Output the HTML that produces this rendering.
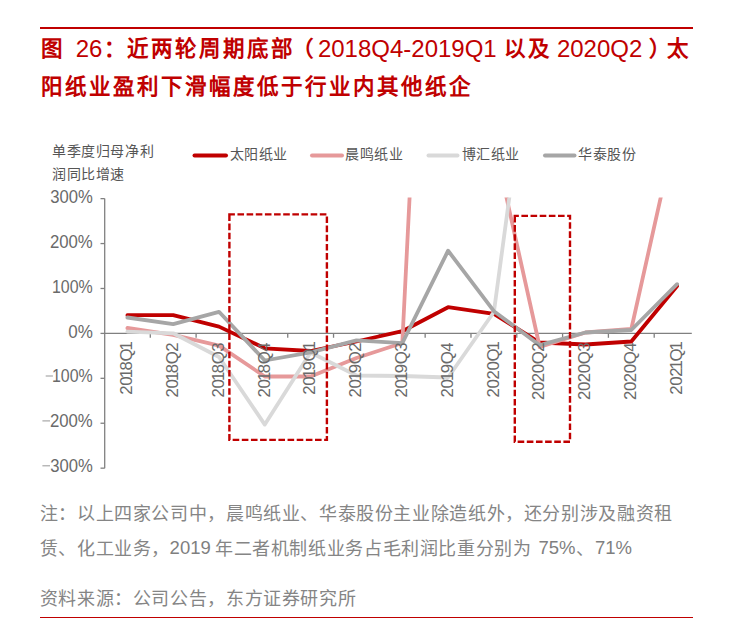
<!DOCTYPE html>
<html lang="zh-CN"><head><meta charset="utf-8">
<style>
html,body{margin:0;padding:0;background:#fff;}
body{width:735px;height:631px;position:relative;overflow:hidden;font-family:"Liberation Sans",sans-serif;}
.rule{position:absolute;left:40px;width:653px;background:#C00000;}
.tc,.td,.nc,.nd{position:absolute;white-space:nowrap;}
.tc{color:#C00000;font-weight:bold;font-size:21.5px;letter-spacing:2px;line-height:30px;}
.td{color:#C00000;font-size:24px;line-height:30px;}
.nc{color:#858585;font-size:18px;letter-spacing:0.62px;line-height:26px;}
.nd{color:#7F7F7F;font-size:18.5px;line-height:26px;}
svg{position:absolute;left:0;top:0;}
</style></head><body>
<div class="rule" style="top:27px;height:2px"></div>
<div class="tc" style="left:40.8px;top:34px">图</div><div class="td" style="left:75.7px;top:34px">26</div><div class="tc" style="left:103.5px;top:34px">：</div><div class="tc" style="left:127px;top:34px">近两轮周期底部</div><div class="tc" style="left:292px;top:34px">（</div><div class="td" style="left:317.9px;top:34px">2018Q4-2019Q1</div><div class="tc" style="left:503.8px;top:34px">以及</div><div class="td" style="left:556.9px;top:34px">2020Q2</div><div class="tc" style="left:649px;top:34px">）</div><div class="tc" style="left:667.3px;top:34px">太</div><div class="tc" style="left:40.8px;top:72.3px">阳纸业盈利下滑幅度低于行业内其他纸企</div>
<svg width="735" height="631" viewBox="0 0 735 631">
<defs><clipPath id="pc"><rect x="105" y="197.5" width="600" height="280"/></clipPath></defs>
<g font-family="Liberation Sans, sans-serif" font-size="14" fill="#555" letter-spacing="0.6">
<text x="52" y="156">单季度归母净利</text>
<text x="52" y="178.5">润同比增速</text>
</g>
<g stroke-linecap="round" stroke-width="4" fill="none">
<line x1="194.5" y1="155.5" x2="226" y2="155.5" stroke="#C00000"/>
<line x1="312" y1="155.5" x2="342" y2="155.5" stroke="#E6999A"/>
<line x1="428.5" y1="155.5" x2="457.5" y2="155.5" stroke="#D9D9D9"/>
<line x1="545" y1="155.5" x2="574.5" y2="155.5" stroke="#A6A6A6"/>
</g>
<g font-family="Liberation Sans, sans-serif" font-size="14" fill="#555" letter-spacing="0.5">
<text x="229.5" y="159.2">太阳纸业</text>
<text x="345" y="159.2">晨鸣纸业</text>
<text x="461.5" y="159.2">博汇纸业</text>
<text x="578" y="159.2">华泰股份</text>
</g>
<g stroke="#808080" stroke-width="1.3" fill="none">
<line x1="104.7" y1="198.5" x2="104.7" y2="468.2"/>
<line x1="104.7" y1="333.4" x2="691.8" y2="333.4"/>
<line x1="100.5" y1="198.64" x2="104.7" y2="198.64"/><line x1="100.5" y1="243.56" x2="104.7" y2="243.56"/><line x1="100.5" y1="288.48" x2="104.7" y2="288.48"/><line x1="100.5" y1="333.40" x2="104.7" y2="333.40"/><line x1="100.5" y1="378.32" x2="104.7" y2="378.32"/><line x1="100.5" y1="423.24" x2="104.7" y2="423.24"/><line x1="100.5" y1="468.16" x2="104.7" y2="468.16"/>
<line x1="150.30" y1="333.4" x2="150.30" y2="337.8"/><line x1="196.11" y1="333.4" x2="196.11" y2="337.8"/><line x1="241.92" y1="333.4" x2="241.92" y2="337.8"/><line x1="287.73" y1="333.4" x2="287.73" y2="337.8"/><line x1="333.54" y1="333.4" x2="333.54" y2="337.8"/><line x1="379.35" y1="333.4" x2="379.35" y2="337.8"/><line x1="425.16" y1="333.4" x2="425.16" y2="337.8"/><line x1="470.97" y1="333.4" x2="470.97" y2="337.8"/><line x1="516.78" y1="333.4" x2="516.78" y2="337.8"/><line x1="562.59" y1="333.4" x2="562.59" y2="337.8"/><line x1="608.40" y1="333.4" x2="608.40" y2="337.8"/><line x1="654.21" y1="333.4" x2="654.21" y2="337.8"/>
</g>
<g font-family="Liberation Sans, sans-serif" font-size="17.5" fill="#6a6a6a">
<text x="92.8" y="202.7" text-anchor="end" textLength="42.6" lengthAdjust="spacingAndGlyphs">300%</text><text x="92.8" y="247.6" text-anchor="end" textLength="42.9" lengthAdjust="spacingAndGlyphs">200%</text><text x="92.8" y="292.5" text-anchor="end" textLength="40.8" lengthAdjust="spacingAndGlyphs">100%</text><text x="92.8" y="337.5" text-anchor="end" textLength="24.6" lengthAdjust="spacingAndGlyphs">0%</text><text x="92.8" y="382.4" text-anchor="end" textLength="40.8" lengthAdjust="spacingAndGlyphs">100%</text><text x="92.8" y="427.3" text-anchor="end" textLength="42.9" lengthAdjust="spacingAndGlyphs">200%</text><text x="92.8" y="472.2" text-anchor="end" textLength="42.6" lengthAdjust="spacingAndGlyphs">300%</text>
</g>
<g stroke="#A0A0A0" stroke-width="1.1"><line x1="45.7" y1="376.0" x2="52.9" y2="376.0"/><line x1="42.4" y1="420.9" x2="50" y2="420.9"/><line x1="42.4" y1="465.8" x2="50" y2="465.8"/></g>
<g clip-path="url(#pc)" fill="none" stroke-width="3.8" stroke-linejoin="round" stroke-linecap="round">
<polyline points="127.4,315.2 173.2,315.2 219.0,326.6 264.8,348.3 310.6,351.0 356.5,341.5 402.3,331.2 448.1,307.2 493.9,313.8 539.7,342.5 585.5,344.5 631.3,341.5 677.1,286.0" stroke="#C00000"/>
<polyline points="127.4,328.0 173.2,334.8 219.0,345.7 264.8,376.5 310.6,376.5 356.5,358.0 402.3,343.0 448.1,-572.0 493.9,140.9 539.7,347.0 585.5,332.5 631.3,329.0 677.1,124.3" stroke="#E6999A"/>
<polyline points="127.4,331.6 173.2,333.3 219.0,357.0 264.8,424.6 310.6,352.5 356.5,375.5 402.3,376.0 448.1,377.5 493.9,312.0 539.7,-28.4" stroke="#D9D9D9"/>
<polyline points="127.4,317.5 173.2,324.2 219.0,311.8 264.8,360.5 310.6,352.3 356.5,340.3 402.3,343.2 448.1,250.7 493.9,311.2 539.7,345.2 585.5,332.5 631.3,330.0 677.1,284.2" stroke="#A6A6A6"/>
</g>
<g font-family="Liberation Sans, sans-serif" font-size="16.8" fill="#6a6a6a">
<text transform="translate(132.1,342.8) rotate(-90)" x="-51.95 -43.00 -35.55 -27.75 -18.80 -7.80">2018Q1</text><text transform="translate(177.9,342.8) rotate(-90)" x="-54.60 -45.65 -38.20 -30.40 -21.45 -8.95">2018Q2</text><text transform="translate(223.7,342.8) rotate(-90)" x="-54.60 -45.65 -38.20 -30.40 -21.45 -8.95">2018Q3</text><text transform="translate(269.5,342.8) rotate(-90)" x="-54.60 -45.65 -38.20 -30.40 -21.45 -8.95">2018Q4</text><text transform="translate(315.3,342.8) rotate(-90)" x="-51.95 -43.00 -35.55 -27.75 -18.80 -7.80">2019Q1</text><text transform="translate(361.2,342.8) rotate(-90)" x="-54.60 -45.65 -38.20 -30.40 -21.45 -8.95">2019Q2</text><text transform="translate(407.0,342.8) rotate(-90)" x="-54.60 -45.65 -38.20 -30.40 -21.45 -8.95">2019Q3</text><text transform="translate(452.8,342.8) rotate(-90)" x="-54.60 -45.65 -38.20 -30.40 -21.45 -8.95">2019Q4</text><text transform="translate(498.6,342.8) rotate(-90)" x="-54.60 -45.65 -36.70 -27.75 -18.80 -7.80">2020Q1</text><text transform="translate(544.4,342.8) rotate(-90)" x="-57.25 -48.30 -39.35 -30.40 -21.45 -8.95">2020Q2</text><text transform="translate(590.2,342.8) rotate(-90)" x="-57.25 -48.30 -39.35 -30.40 -21.45 -8.95">2020Q3</text><text transform="translate(636.0,342.8) rotate(-90)" x="-57.25 -48.30 -39.35 -30.40 -21.45 -8.95">2020Q4</text><text transform="translate(681.8,342.8) rotate(-90)" x="-51.95 -43.00 -34.05 -26.60 -18.80 -7.80">2021Q1</text>
</g>
<g fill="none" stroke="#C00000" stroke-width="2.4" stroke-dasharray="6.6 2.55">
<path d="M229.4,214.4 V439.9 H326.9 V214.4 Z"/>
<path d="M514.8,215.9 V441.8 H570 V215.9 Z"/>
</g>
</svg>
<div class="nc" style="left:39.7px;top:500.5px">注：以上四家公司中，晨鸣纸业、华泰股份主业除造纸外，还分别涉及融资租</div><div class="nc" style="left:39.7px;top:535.5px">赁、化工业务，</div><div class="nd" style="left:169.6px;top:534.5px">2019</div><div class="nc" style="left:215px;top:535.5px">年二者机制纸业务占毛利润比重分别为</div><div class="nd" style="left:538.5px;top:534.5px">75%</div><div class="nc" style="left:576px;top:535.5px">、</div><div class="nd" style="left:595px;top:534.5px">71%</div><div class="nc" style="left:39.7px;top:586px">资料来源：公司公告，东方证券研究所</div>
<div class="rule" style="top:617px;height:1px"></div>
</body></html>
